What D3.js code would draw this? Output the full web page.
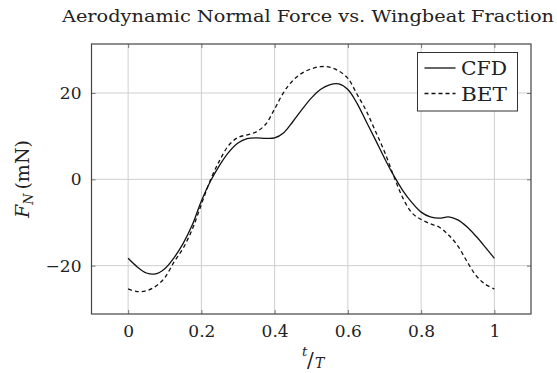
<!DOCTYPE html>
<html>
<head>
<meta charset="utf-8">
<script src="https://cdn.jsdelivr.net/npm/d3@7"></script>
<style>
  html, body { margin: 0; padding: 0; background: #fff; }
  svg { display: block; }
  text { font-family: "DejaVu Serif", serif; fill: #222; }
</style>
</head>
<body>
<svg id="chart" width="557" height="373"></svg>
<script>
// Wingbeat fraction samples (t/T)
const tValues = [0, 0.025, 0.05, 0.075, 0.1, 0.125, 0.15, 0.175, 0.2, 0.225, 0.25, 0.275, 0.3, 0.325, 0.35, 0.375, 0.4, 0.425, 0.45, 0.475, 0.5, 0.525, 0.55, 0.575, 0.6, 0.625, 0.65, 0.675, 0.7, 0.725, 0.75, 0.775, 0.8, 0.825, 0.85, 0.875, 0.9, 0.925, 0.95, 0.975, 1.0];
// Normal force from CFD (mN)
const cfdValues = [-18.3, -20.3, -21.7, -21.9, -20.7, -18.2, -14.9, -10.6, -5.0, -0.4, 3.3, 6.3, 8.4, 9.4, 9.6, 9.5, 9.6, 10.8, 13.4, 16.2, 18.8, 20.8, 21.9, 22.1, 20.8, 17.6, 13.4, 9.2, 4.9, 0.9, -2.6, -5.4, -7.6, -8.7, -9.0, -8.7, -9.4, -11.0, -13.2, -15.7, -18.3];
// Normal force from blade-element theory (mN)
const betValues = [-25.4, -26.0, -25.8, -24.8, -22.8, -19.2, -16.0, -11.6, -5.8, -0.1, 4.4, 7.9, 9.7, 10.3, 11.0, 12.7, 16.3, 20.2, 22.9, 24.6, 25.6, 26.1, 26.0, 25.1, 23.4, 19.7, 15.9, 11.2, 6.4, 0.8, -4.3, -7.8, -9.3, -10.3, -11.1, -12.9, -15.4, -19.0, -22.3, -24.3, -25.4];

const xTicks = [0, 0.2, 0.4, 0.6, 0.8, 1];
const yTicks = [-20, 0, 20];
const seriesNames = ["CFD", "BET"];
const titleText = "Aerodynamic Normal Force vs. Wingbeat Fraction";

const serif = "'DejaVu Serif', serif";
const svg = d3.select("#chart");
const plot = { left: 91.5, right: 531, top: 44, bottom: 314 };

const x = d3.scaleLinear().domain([-0.1, 1.1]).range([plot.left, plot.right]);
const y = d3.scaleLinear().domain([-31.2, 31.35]).range([plot.bottom, plot.top]);

// grid
const grid = svg.append("g");
grid.selectAll("line.vx").data(xTicks).join("line")
  .attr("x1", d => x(d)).attr("x2", d => x(d))
  .attr("y1", plot.top).attr("y2", plot.bottom)
  .attr("stroke", "#cfcfcf").attr("stroke-width", 1);
grid.selectAll("line.hy").data(yTicks).join("line")
  .attr("x1", plot.left).attr("x2", plot.right)
  .attr("y1", d => y(d)).attr("y2", d => y(d))
  .attr("stroke", "#cfcfcf").attr("stroke-width", 1);

// axes with ticks drawn inward
const tickLen = 4;
const bottomAxis = d3.axisBottom(x).tickValues(xTicks).tickSize(-tickLen).tickPadding(11)
  .tickFormat(d => d === 0 ? "0" : d === 1 ? "1" : d3.format(".1f")(d));
const topAxis = d3.axisTop(x).tickValues(xTicks).tickSize(-tickLen).tickFormat("");
const leftAxis = d3.axisLeft(y).tickValues(yTicks).tickSize(-tickLen).tickPadding(10)
  .tickFormat(d => d < 0 ? "\u2212" + Math.abs(d) : String(d));
const rightAxis = d3.axisRight(y).tickValues(yTicks).tickSize(-tickLen).tickFormat("");

function styleAxis(g) {
  g.attr("font-family", serif);
  g.select(".domain").remove();
  g.selectAll(".tick line").attr("stroke", "#777");
  g.selectAll(".tick text")
    .style("font-family", serif)
    .style("font-size", "17px").attr("fill", "#222");
}
svg.append("g").attr("transform", `translate(0,${plot.bottom})`).call(bottomAxis).call(styleAxis);
svg.append("g").attr("transform", `translate(0,${plot.top})`).call(topAxis).call(styleAxis);
svg.append("g").attr("transform", `translate(${plot.left},0)`).call(leftAxis).call(styleAxis);
svg.append("g").attr("transform", `translate(${plot.right},0)`).call(rightAxis).call(styleAxis);

// series lines
const cfd = tValues.map((t, i) => [t, cfdValues[i]]);
const bet = tValues.map((t, i) => [t, betValues[i]]);
const line = d3.line().x(d => x(d[0])).y(d => y(d[1])).curve(d3.curveCatmullRom.alpha(0.5));

svg.append("path").datum(bet).attr("d", line)
  .attr("fill", "none").attr("stroke", "#111").attr("stroke-width", 1.3)
  .attr("stroke-dasharray", "4,3");
svg.append("path").datum(cfd).attr("d", line)
  .attr("fill", "none").attr("stroke", "#111").attr("stroke-width", 1.3);

// frame
svg.append("rect")
  .attr("x", plot.left).attr("y", plot.top)
  .attr("width", plot.right - plot.left).attr("height", plot.bottom - plot.top)
  .attr("fill", "none").attr("stroke", "#444").attr("stroke-width", 1.2);

// legend
const lg = svg.append("g");
lg.append("rect").attr("x", 417.5).attr("y", 52.5).attr("width", 100).attr("height", 58.5)
  .attr("fill", "#fff").attr("stroke", "#333").attr("stroke-width", 1);
const rows = [{ name: seriesNames[0], dash: null, yy: 68 }, { name: seriesNames[1], dash: "4,3", yy: 93.5 }];
rows.forEach(r => {
  lg.append("line").attr("x1", 424.5).attr("x2", 455.5).attr("y1", r.yy).attr("y2", r.yy)
    .attr("stroke", "#111").attr("stroke-width", 1.3)
    .attr("stroke-dasharray", r.dash);
  lg.append("text").attr("x", 461).attr("y", r.yy + 7).style("font-size", "18px")
    .attr("textLength", 46).attr("lengthAdjust", "spacingAndGlyphs").text(r.name);
});

// title
svg.append("text").attr("x", 308).attr("y", 22).attr("text-anchor", "middle")
  .style("font-size", "16px").attr("textLength", 492).attr("lengthAdjust", "spacingAndGlyphs")
  .text(titleText);

// y label: F_N (mN)
const yl = svg.append("text").attr("transform", "translate(29,179) rotate(-90)")
  .attr("text-anchor", "middle").style("font-size", "19px");
yl.append("tspan").style("font-style", "italic").text("F");
yl.append("tspan").attr("dy", 4).style("font-size", "13px").style("font-style", "italic").text("N");
yl.append("tspan").attr("dy", -4).text("\u2009(mN)");

// x label: t/T
const xl = svg.append("g").attr("transform", "translate(311,362)");
xl.append("text").attr("x", -9).attr("y", -6).style("font-size", "13px").style("font-style", "italic").text("t");
xl.append("text").attr("x", -4).attr("y", 5).style("font-size", "20px").text("/");
xl.append("text").attr("x", 4).attr("y", 6).style("font-size", "14px").style("font-style", "italic").text("T");
</script>
</body>
</html>
